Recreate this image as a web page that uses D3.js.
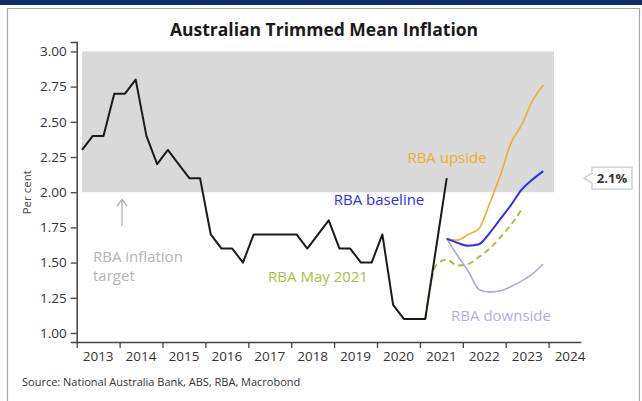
<!DOCTYPE html>
<html>
<head>
<meta charset="utf-8">
<script src="https://cdn.jsdelivr.net/npm/d3@7"></script>
<style>
  html, body { margin: 0; padding: 0; background: #fff; }
  svg { display: block; }
  text { font-family: "Open Sans", "Noto Sans", sans-serif; }
</style>
</head>
<body>
<svg id="chart" width="642" height="401"></svg>
<script>
// Trimmed mean inflation, year-ended, per cent
const actualQuarters = [
  "2013Q1","2013Q2","2013Q3","2013Q4","2014Q1","2014Q2","2014Q3","2014Q4",
  "2015Q1","2015Q2","2015Q3","2015Q4","2016Q1","2016Q2","2016Q3","2016Q4",
  "2017Q1","2017Q2","2017Q3","2017Q4","2018Q1","2018Q2","2018Q3","2018Q4",
  "2019Q1","2019Q2","2019Q3","2019Q4","2020Q1","2020Q2","2020Q3","2020Q4",
  "2021Q1","2021Q2","2021Q3"
];
const actualValues = [
  2.3, 2.4, 2.4, 2.7, 2.7, 2.8, 2.4, 2.2,
  2.3, 2.2, 2.1, 2.1, 1.7, 1.6, 1.6, 1.5,
  1.7, 1.7, 1.7, 1.7, 1.7, 1.6, 1.7, 1.8,
  1.6, 1.6, 1.5, 1.5, 1.7, 1.2, 1.1, 1.1,
  1.1, 1.6, 2.1
];

// RBA scenarios
const scenarioQuarters = [
  "2021Q3","2021Q4","2022Q1","2022Q2","2022Q3","2022Q4",
  "2023Q1","2023Q2","2023Q3","2023Q4"
];
const upsideValues   = [1.67, 1.66, 1.70, 1.74, 1.92, 2.12, 2.35, 2.48, 2.65, 2.76];
const baselineValues = [1.67, 1.64, 1.62, 1.63, 1.71, 1.81, 1.91, 2.02, 2.09, 2.15];
const downsideValues = [1.67, 1.55, 1.44, 1.31, 1.29, 1.30, 1.33, 1.37, 1.42, 1.49];

// RBA May 2021 forecast
const mayQuarters = [
  "2021Q1","2021Q2","2021Q3","2021Q4","2022Q1","2022Q2",
  "2022Q3","2022Q4","2023Q1","2023Q2"
];
const mayValues = [1.1, 1.48, 1.52, 1.48, 1.49, 1.54, 1.60, 1.68, 1.77, 1.88];

// Target band and axis ticks
const targetBand = { from: "2013Q1", to: "2024Q1", low: 2.0, high: 3.0 };
const yTicks = [1.00, 1.25, 1.50, 1.75, 2.00, 2.25, 2.50, 2.75, 3.00];
const xYears = [2013, 2014, 2015, 2016, 2017, 2018, 2019, 2020, 2021, 2022, 2023, 2024];
const lastValueLabel = "2.1%";

// Quarter string -> fractional year at mid-quarter
const qTime = q => +q.slice(0, 4) + (+q.slice(5) - 1) * 0.25 + 0.125;

const svg = d3.select("#chart");
const W = 642, H = 401;

// Frame
svg.append("rect").attr("x", 0).attr("y", 0).attr("width", W).attr("height", 5).attr("fill", "#0b2d6f");
svg.append("path").attr("d", "M7.5,401 V8.5 H639.5 V401")
  .attr("fill", "none").attr("stroke", "#a8a8a8").attr("stroke-width", 1.2);

const x = d3.scaleLinear().domain([2013, 2024.75]).range([76.7, 580.8]);
const y = d3.scaleLinear().domain([0.936, 3.067]).range([342, 42]);

// Target band
svg.append("rect")
  .attr("x", x(qTime(targetBand.from)))
  .attr("y", y(targetBand.high))
  .attr("width", x(qTime(targetBand.to)) - x(qTime(targetBand.from)))
  .attr("height", y(targetBand.low) - y(targetBand.high))
  .attr("fill", "#d9d9d9");

// Title
svg.append("text").attr("x", 324).attr("y", 36).attr("text-anchor", "middle")
  .attr("font-size", 17.5).attr("font-weight", "bold").attr("fill", "#1a1a1a")
  .text("Australian Trimmed Mean Inflation");

// Y axis
const yAxis = svg.append("g").attr("transform", `translate(${x(2013)},0)`)
  .call(d3.axisLeft(y).tickValues(yTicks).tickFormat(d3.format(".2f")).tickSize(6).tickPadding(4));
yAxis.select(".domain").attr("stroke", "#444").attr("stroke-width", 1.5);
yAxis.selectAll(".tick line").attr("stroke", "#444").attr("stroke-width", 1.3);
yAxis.selectAll(".tick text").attr("font-size", 13.5).attr("fill", "#333")
  .style("font-family", "'Open Sans', sans-serif");

// X axis
const xAxis = svg.append("g").attr("transform", `translate(0,${y.range()[0]})`)
  .call(d3.axisBottom(x).tickValues(xYears).tickFormat("").tickSize(6).tickSizeOuter(0));
xAxis.select(".domain").attr("stroke", "#444").attr("stroke-width", 1.5);
xAxis.selectAll(".tick line").attr("stroke", "#444").attr("stroke-width", 1.3);
svg.append("g").selectAll("text").data(xYears).join("text")
  .attr("x", d => x(d + 0.5)).attr("y", 361).attr("text-anchor", "middle")
  .attr("font-size", 13.5).attr("fill", "#333").text(d => d);

// Y axis title
svg.append("text").attr("transform", `translate(31,${y(2.0)}) rotate(-90)`)
  .attr("text-anchor", "middle").attr("font-size", 11.5).attr("fill", "#444").text("Per cent");

// Lines
const mk = (qs, vs) => qs.map((q, i) => ({ t: qTime(q), v: vs[i] }));
const straight = d3.line().x(d => x(d.t)).y(d => y(d.v));
const smooth = d3.line().x(d => x(d.t)).y(d => y(d.v)).curve(d3.curveMonotoneX);

svg.append("path").datum(mk(mayQuarters, mayValues)).attr("d", smooth)
  .attr("fill", "none").attr("stroke", "#a9be3c").attr("stroke-width", 2).attr("stroke-dasharray", "6,4");
svg.append("path").datum(mk(actualQuarters, actualValues)).attr("d", straight)
  .attr("fill", "none").attr("stroke", "#1a1a1a").attr("stroke-width", 2).attr("stroke-linejoin", "round");
svg.append("path").datum(mk(scenarioQuarters, downsideValues)).attr("d", smooth)
  .attr("fill", "none").attr("stroke", "#a9a9dc").attr("stroke-width", 1.6);
svg.append("path").datum(mk(scenarioQuarters, upsideValues)).attr("d", smooth)
  .attr("fill", "none").attr("stroke", "#e8b030").attr("stroke-width", 1.6);
svg.append("path").datum(mk(scenarioQuarters, baselineValues)).attr("d", smooth)
  .attr("fill", "none").attr("stroke", "#2e2ef0").attr("stroke-width", 2);

// Series labels
const lbl = (tx, ty, txt, col, anchor = "start") =>
  svg.append("text").attr("x", tx).attr("y", ty).attr("text-anchor", anchor)
    .attr("font-size", 15).attr("fill", col).text(txt);
lbl(447, 163, "RBA upside", "#e8b030", "middle");
lbl(379, 205, "RBA baseline", "#2e2ef0", "middle");
lbl(318, 282, "RBA May 2021", "#a9be3c", "middle");
lbl(501, 321, "RBA downside", "#b0b0e0", "middle");
lbl(93, 262, "RBA inflation", "#b4b4b4");
lbl(93, 281, "target", "#b4b4b4");

// Arrow pointing at the target band
svg.append("path").attr("d", `M122,${y(1.76)} V${y(1.95)} M117,${y(1.9)} L122,${y(1.95)} L127,${y(1.9)}`)
  .attr("fill", "none").attr("stroke", "#a8a8a8").attr("stroke-width", 1.2);

// Last value callout
const cy = y(actualValues[actualValues.length - 1]);
svg.append("path")
  .attr("d", `M592,${cy - 11} H632 V${cy + 11} H592 V${cy + 5} L584,${cy} L592,${cy - 5} Z`)
  .attr("fill", "#fff").attr("stroke", "#c5cccc").attr("stroke-width", 1.3);
svg.append("text").attr("x", 612).attr("y", cy + 5).attr("text-anchor", "middle")
  .attr("font-size", 13).attr("font-weight", "bold").attr("fill", "#333").text(lastValueLabel);

// Source
svg.append("text").attr("x", 22).attr("y", 386).attr("font-size", 11).attr("fill", "#333")
  .text("Source: National Australia Bank, ABS, RBA, Macrobond");
</script>
</body>
</html>
